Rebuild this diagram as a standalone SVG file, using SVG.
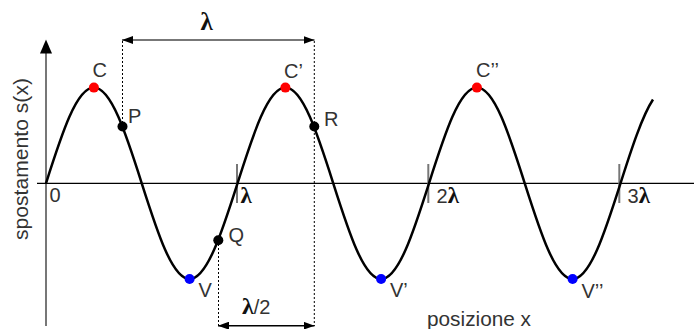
<svg xmlns="http://www.w3.org/2000/svg" width="694" height="329" viewBox="0 0 694 329">
<defs>
<style>
.lbl{font-family:"Liberation Sans",Arial,sans-serif;font-size:20px;fill:#333}
.lam{font-family:"Liberation Serif","Times New Roman",serif;font-weight:bold;fill:#111}
.dash{stroke:#000;stroke-width:1;stroke-dasharray:2 2;fill:none}
.tick{stroke:#777;stroke-width:2}
.wave{fill:none;stroke:#000;stroke-width:2.5}
.red{fill:#f00}.blue{fill:#00f}.blk{fill:#000}
</style>
<marker id="ah" viewBox="0 0 11 8" refX="11" refY="4" markerWidth="11" markerHeight="8" markerUnits="userSpaceOnUse" orient="auto-start-reverse">
<path d="M0,0 L11,4 L0,8 Z" fill="#000"/>
</marker>
</defs>
<g id="axes">
<line x1="46" y1="326" x2="46" y2="52" stroke="#777" stroke-width="2"/>
<path d="M46,39.5 L52,53.5 L40,53.5 Z" fill="#000"/>
<line x1="37" y1="183.3" x2="694" y2="183.3" stroke="#000" stroke-width="1.3"/>
<line class="tick" x1="237" y1="164" x2="237" y2="203"/>
<line class="tick" x1="428.3" y1="164" x2="428.3" y2="203"/>
<line class="tick" x1="619.3" y1="164" x2="619.3" y2="203"/>
<text class="lbl" x="49.5" y="202" font-size="19">0</text>
<text class="lam" x="240.5" y="203" font-size="23">λ</text>
<text class="lbl" x="436.5" y="203" font-size="19">2<tspan class="lam" font-size="23">λ</tspan></text>
<text class="lbl" x="627.5" y="203" font-size="19">3<tspan class="lam" font-size="23">λ</tspan></text>
<text class="lbl" transform="translate(28,240) rotate(-90)" x="0" y="0" textLength="162" lengthAdjust="spacingAndGlyphs">spostamento s(x)</text>
<text class="lbl" x="427" y="326" textLength="104" lengthAdjust="spacingAndGlyphs">posizione x</text>
</g>
<g id="connectors">
<line class="dash" x1="122.5" y1="41" x2="122.5" y2="126"/>
<line class="dash" x1="314.3" y1="41" x2="314.3" y2="326"/>
<line class="dash" x1="218.5" y1="240" x2="218.5" y2="326"/>
<line x1="122" y1="40" x2="314.5" y2="40" stroke="#777" stroke-width="2" marker-start="url(#ah)" marker-end="url(#ah)"/>
<line x1="218" y1="325.7" x2="314.5" y2="325.7" stroke="#000" stroke-width="1.5" marker-start="url(#ah)" marker-end="url(#ah)"/>
<text class="lam" x="200.5" y="30" font-size="25">λ</text>
<text class="lbl" x="242" y="314"><tspan class="lam" font-size="24">λ</tspan>/2</text>
</g>
<g id="wave">
<path class="wave" d="M46,183.3 C61.61,134.27 76.55,87.6 93.875,87.6 C111.2,87.6 126.14,134.27 141.75,183.3 C157.36,232.33 172.3,279 189.625,279 C206.95,279 221.89,232.33 237.5,183.3 C253.11,134.27 268.05,87.6 285.375,87.6 C302.7,87.6 317.64,134.27 333.25,183.3 C348.86,232.33 363.8,279 381.125,279 C398.45,279 413.39,232.33 429,183.3 C444.61,134.27 459.55,87.6 476.875,87.6 C494.2,87.6 509.14,134.27 524.75,183.3 C540.36,232.33 555.3,279 572.625,279 C589.95,279 604.89,232.33 620.5,183.3 C631.33,149.28 642.17,115.96 653,99.52"/>
</g>
<g id="node-C"><circle class="red" cx="93.9" cy="87.6" r="5"/><text class="lbl" x="92.5" y="77" font-size="22">C</text></g>
<g id="node-P"><circle class="blk" cx="122.5" cy="126.5" r="5"/><text class="lbl" x="128" y="122.5" font-size="18">P</text></g>
<g id="node-Q"><circle class="blk" cx="218.3" cy="240.3" r="5"/><text class="lbl" x="228.5" y="241.5" font-size="21">Q</text></g>
<g id="node-V"><circle class="blue" cx="189.6" cy="279" r="5"/><text class="lbl" x="198.5" y="296.5" font-size="21">V</text></g>
<g id="node-C1"><circle class="red" cx="285.4" cy="87.6" r="5"/><text class="lbl" x="284" y="78" font-size="22">C’</text></g>
<g id="node-R"><circle class="blk" cx="314.3" cy="126.5" r="5"/><text class="lbl" x="324" y="126" font-size="21">R</text></g>
<g id="node-V1"><circle class="blue" cx="381.1" cy="279" r="5"/><text class="lbl" x="390" y="297" font-size="21">V’</text></g>
<g id="node-C2"><circle class="red" cx="476.9" cy="87.6" r="5"/><text class="lbl" x="476" y="77" font-size="22">C’’</text></g>
<g id="node-V2"><circle class="blue" cx="572.6" cy="279" r="5"/><text class="lbl" x="581.5" y="297.5" font-size="21">V’’</text></g>
</svg>
